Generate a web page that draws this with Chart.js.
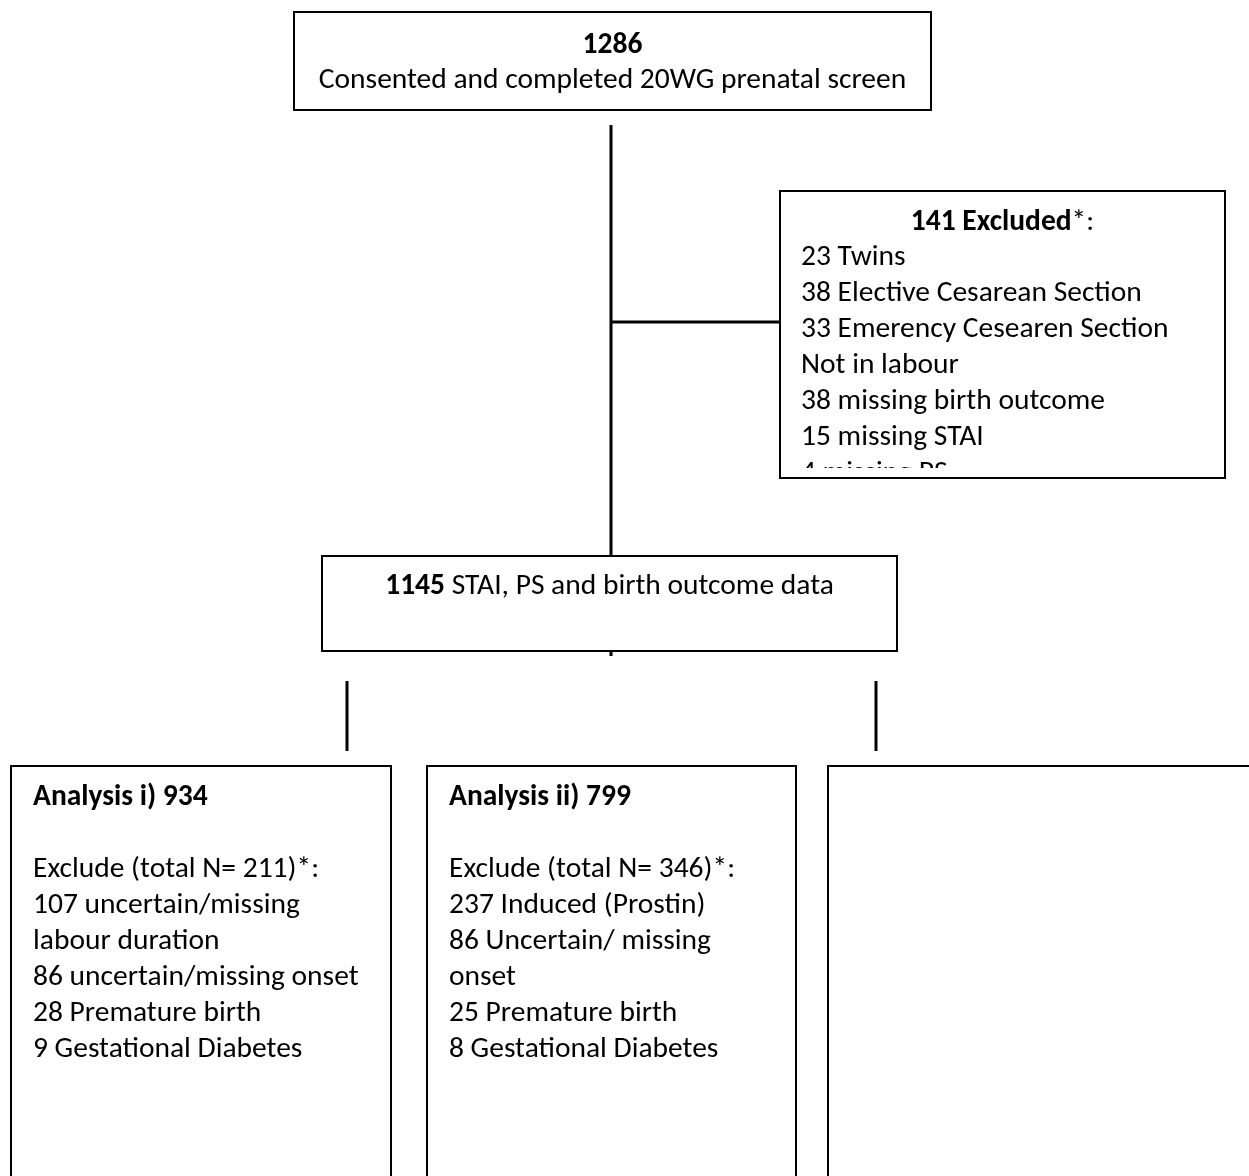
<!DOCTYPE html>
<html>
<head>
<meta charset="utf-8">
<script src="https://cdn.jsdelivr.net/npm/chart.js@4.4.1/dist/chart.umd.min.js"></script>
<style>
  body { margin: 0; background: #fff; }
  canvas { display: block; }
</style>
</head>
<body>
<canvas id="flow" width="1249" height="1176"></canvas>
<script>
// flowchart content
const enrolledCount = 1286
const enrolledLabel = "Consented and completed 20WG prenatal screen"
const excludedCount = 141
const excludedReasons = [
    "23 Twins",
    "38 Elective Cesarean Section",
    "33 Emerency Cesearen Section",
    "Not in labour",
    "38 missing birth outcome",
    "15 missing STAI",
    "4 missing PS"
]
const retainedCount = 1145
const retainedLabel = "STAI, PS and birth outcome data"
const analysisNames = ["Analysis i)", "Analysis ii)", ""]
const analysisCounts = [934, 799, null]
const analysisExcludeTotals = [211, 346, null]
const analysisReasons = [
    ["107 uncertain/missing", "labour duration", "86 uncertain/missing onset", "28 Premature birth", "9 Gestational Diabetes"],
    ["237 Induced (Prostin)", "86 Uncertain/ missing", "onset", "25 Premature birth", "8 Gestational Diabetes"],
    []
]

// layout (in page units, mapped through the chart scales)
const W = 1249, H = 1176
const FONT = "Carlito, Calibri, Lato, sans-serif"
const SIZE = 29.5
const LINE = 36
const boxTop = { x0: 294, y0: 12, x1: 931, y1: 110 }
const boxExcl = { x0: 780, y0: 191, x1: 1225, y1: 478 }
const boxMid = { x0: 322, y0: 556, x1: 897, y1: 651 }
const boxAnalysis = [
    { x0: 11, y0: 766, x1: 391, y1: 1200 },
    { x0: 427, y0: 766, x1: 796, y1: 1200 },
    { x0: 828, y0: 766, x1: 1270, y1: 1200 }
]
const connectors = [
    [[611, 125], [611, 556]],
    [[611, 322], [780, 322]],
    [[611, 651], [611, 656]],
    [[347, 681], [347, 751]],
    [[876, 681], [876, 751]]
]

function drawRuns(ctx, runs, x, y, align) {
    let total = 0
    runs.forEach(r => {
        ctx.font = (r.bold ? "bold " : "") + SIZE + "px " + FONT
        r.w = ctx.measureText(r.text).width
        total += r.w
    })
    let cx = align === "center" ? x - total / 2 : x
    runs.forEach(r => {
        ctx.font = (r.bold ? "bold " : "") + SIZE + "px " + FONT
        ctx.textAlign = "left"
        ctx.textBaseline = "alphabetic"
        ctx.fillText(r.text, cx, y)
        cx += r.w
    })
}

const flowBoxes = {
    id: "flowBoxes",
    afterDatasetsDraw(chart) {
        const { ctx, scales } = chart
        const px = v => scales.x.getPixelForValue(v)
        const py = v => scales.y.getPixelForValue(v)

        ctx.save()
        ctx.fillStyle = "#000"
        ctx.strokeStyle = "#000"
        ctx.lineWidth = 2

        const rect = b => {
            ctx.strokeRect(px(b.x0), py(b.y0), px(b.x1) - px(b.x0), py(b.y1) - py(b.y0))
        }

        // top box
        rect(boxTop)
        const topMid = px((boxTop.x0 + boxTop.x1) / 2)
        drawRuns(ctx, [{ text: String(enrolledCount), bold: true }], topMid, py(53), "center")
        drawRuns(ctx, [{ text: enrolledLabel }], topMid, py(88), "center")

        // excluded box, content clipped by its border
        ctx.fillStyle = "#fff"
        ctx.fillRect(px(boxExcl.x0), py(boxExcl.y0), px(boxExcl.x1) - px(boxExcl.x0), py(boxExcl.y1) - py(boxExcl.y0))
        ctx.fillStyle = "#000"
        rect(boxExcl)
        ctx.save()
        ctx.beginPath()
        ctx.rect(px(boxExcl.x0), py(boxExcl.y0), px(boxExcl.x1) - px(boxExcl.x0), py(468) - py(boxExcl.y0))
        ctx.clip()
        drawRuns(ctx, [{ text: excludedCount + " Excluded", bold: true }, { text: "*:" }],
            px((boxExcl.x0 + boxExcl.x1) / 2), py(230), "center")
        excludedReasons.forEach((t, i) => {
            drawRuns(ctx, [{ text: t }], px(801), py(265 + i * LINE), "left")
        })
        ctx.restore()

        // middle box
        rect(boxMid)
        drawRuns(ctx, [{ text: String(retainedCount), bold: true }, { text: " " + retainedLabel }],
            px((boxMid.x0 + boxMid.x1) / 2), py(594), "center")

        // analysis boxes
        boxAnalysis.forEach((b, i) => {
            rect(b)
            if (analysisCounts[i] === null) return
            const lx = px(b.x0 + 22)
            drawRuns(ctx, [{ text: analysisNames[i] + " " + analysisCounts[i], bold: true }], lx, py(805), "left")
            const lines = ["Exclude (total N= " + analysisExcludeTotals[i] + ")*:"].concat(analysisReasons[i])
            lines.forEach((t, j) => {
                drawRuns(ctx, [{ text: t }], lx, py(805 + (j + 2) * LINE), "left")
            })
        })

        ctx.restore()
    }
}

new Chart(document.getElementById("flow"), {
    type: "scatter",
    data: {
        datasets: connectors.map(seg => ({
            data: seg.map(p => ({ x: p[0], y: p[1] })),
            showLine: true,
            borderColor: "#000",
            borderWidth: 3,
            pointRadius: 0,
            borderCapStyle: "butt"
        }))
    },
    options: {
        responsive: false,
        animation: false,
        events: [],
        layout: { padding: 0 },
        plugins: { legend: { display: false }, tooltip: { enabled: false } },
        scales: {
            x: { type: "linear", min: 0, max: W, display: false },
            y: { type: "linear", min: 0, max: H, reverse: true, display: false }
        }
    },
    plugins: [flowBoxes]
})
</script>
</body>
</html>
